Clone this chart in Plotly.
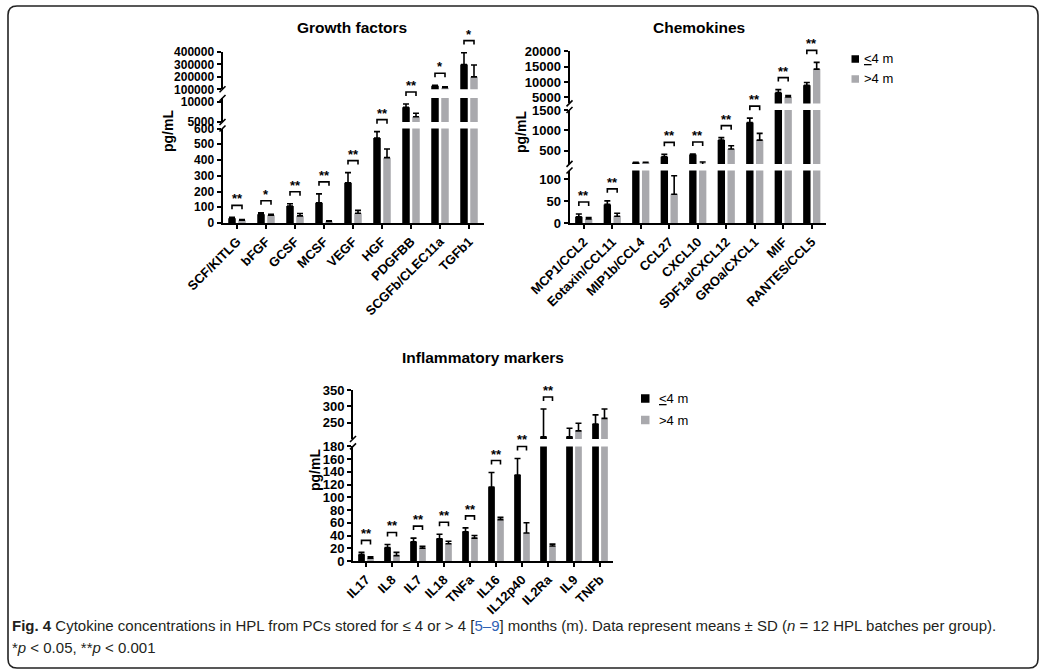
import plotly.graph_objects as go

W, H = 1046, 669
FONT = "Liberation Sans, Arial, Helvetica, sans-serif"
CAPTION_FONT = "Liberation Sans Narrow, Liberation Sans, Arial, sans-serif"
BLACK = "#000000"
GREY = "#a9a9ad"

# ---------------- data (means and SD, pg/mL) ----------------
gf_cats = ["SCF/KITLG", "bFGF", "GCSF", "MCSF", "VEGF", "HGF", "PDGFBB",
           "SCGFb/CLEC11a", "TGFb1"]
gf_le4 = [30, 55, 108, 128, 255, 540, 8700, 128000, 300000]
gf_le4_sd = [6, 10, 14, 57, 65, 40, 800, 5000, 95000]
gf_gt4 = [18, 50, 45, 10, 62, 415, 6300, 112000, 200000]
gf_gt4_sd = [4, 6, 15, 4, 18, 55, 900, 8000, 95000]
gf_sig = ["**", "*", "**", "**", "**", "**", "**", "*", "*"]

ch_cats = ["MCP1/CCL2", "Eotaxin/CCL11", "MIP1b/CCL4", "CCL27", "CXCL10",
           "SDF1a/CXCL12", "GROa/CXCL1", "MIF", "RANTES/CCL5"]
ch_le4 = [15, 43, 210, 350, 405, 760, 1190, 6500, 8900]
ch_le4_sd = [6, 8, 5, 60, 15, 60, 110, 1000, 900]
ch_gt4 = [10, 16, 210, 66, 160, 540, 760, 5100, 14200]
ch_gt4_sd = [3, 7, 5, 42, 60, 80, 165, 500, 2200]
ch_sig = ["**", "**", "", "**", "**", "**", "**", "**", "**"]

in_cats = ["IL17", "IL8", "IL7", "IL18", "TNFa", "IL16", "IL12p40", "IL2Ra",
           "IL9", "TNFb"]
in_le4 = [10, 21, 30, 35, 46, 116, 135, 207, 207, 246]
in_le4_sd = [3.5, 5, 6, 7, 6, 23, 26, 85, 26, 28]
in_gt4 = [4.5, 8.5, 20, 27, 36, 65, 44, 23.5, 225, 263]
in_gt4_sd = [2, 5, 3, 4, 4, 3.5, 16, 3, 23, 29]
in_sig = ["**", "**", "**", "**", "**", "**", "**", "**", "", ""]

# tick values of each axis segment (bottom -> top)
gf_ticks = [[0, 100, 200, 300, 400, 500, 600], [5000, 10000],
            [100000, 200000, 300000, 400000]]
ch_ticks = [[0, 50, 100], [500, 1000, 1500], [5000, 10000, 15000, 20000]]
in_ticks = [[0, 20, 40, 60, 80, 100, 120, 140, 160, 180], [250, 300, 350]]

series_names = ["<u>&lt;</u>4 m", "&gt;4 m"]


def fx(px):
    return px / W


def fy(py):
    return 1 - py / H


# Panel geometry in pixels: x extent of the category axis and, for each
# axis segment, its value range and (bottom, top) pixel rows.
panels = [
    dict(title="Growth factors", cats=gf_cats, a=gf_le4, ea=gf_le4_sd,
         b=gf_gt4, eb=gf_gt4_sd, sig=gf_sig, ticks=gf_ticks, tick_size=12,
         xpx=(222.5, 483.5),
         segs=[((0, 600), (223, 128.5)), ((5000, 11000), (122, 98)),
               ((100000, 400000), (89.3, 52))],
         title_xy=(352, 28), ylab_xy=(168, 131), legend=None),
    dict(title="Chemokines", cats=ch_cats, a=ch_le4, ea=ch_le4_sd,
         b=ch_gt4, eb=ch_gt4_sd, sig=ch_sig, ticks=ch_ticks, tick_size=13,
         xpx=(569.5, 826),
         segs=[((0, 120), (223.3, 170.5)), ((175, 1500), (163.9, 110)),
               ((3000, 20000), (103.4, 51.3))],
         title_xy=(699, 28), ylab_xy=(521, 132),
         legend=dict(sq=(851.5, 859), rows=(59, 79), tx=862)),
    dict(title="Inflammatory markers", cats=in_cats, a=in_le4, ea=in_le4_sd,
         b=in_gt4, eb=in_gt4_sd, sig=in_sig, ticks=in_ticks, tick_size=13,
         xpx=(353, 613),
         segs=[((0, 180), (561, 446.4)), ((200, 350), (439, 390))],
         title_xy=(483, 357), ylab_xy=(315, 470),
         legend=dict(sq=(641, 649.5), rows=(398.5, 420), tx=657)),
]

fig = go.Figure()
layout = dict(width=W, height=H,
              margin=dict(l=0, r=0, t=0, b=0, pad=0, autoexpand=False),
              autosize=False, paper_bgcolor="white", plot_bgcolor="white",
              barmode="group", bargap=0.31, bargroupgap=0.25,
              showlegend=False, font=dict(family=FONT, color=BLACK))
shapes = []
annotations = []

yidx = 0
for pi, p in enumerate(panels):
    xname = "x" if pi == 0 else f"x{pi + 1}"
    xkey = "xaxis" if pi == 0 else f"xaxis{pi + 1}"
    x0, x1 = p["xpx"]
    n = len(p["cats"])
    seg_names = []
    for si, ((lo, hi), (pb, pt)) in enumerate(p["segs"]):
        yidx += 1
        yname = "y" if yidx == 1 else f"y{yidx}"
        ykey = "yaxis" if yidx == 1 else f"yaxis{yidx}"
        seg_names.append(yname)
        ticks = p["ticks"][si]
        layout[ykey] = dict(
            domain=[fy(pb), fy(pt)], range=[lo, hi], anchor=xname,
            tickmode="array", tickvals=ticks, ticktext=[str(t) for t in ticks],
            showline=True, linecolor=BLACK, linewidth=2, ticks="outside",
            ticklen=4, tickwidth=1.5, tickcolor=BLACK, showgrid=False,
            zeroline=False, fixedrange=True, automargin=False,
            tickfont=dict(family=FONT, size=p["tick_size"], color=BLACK,
                          weight="bold"))
        for vals, errs, col in ((p["a"], p["ea"], BLACK),
                                (p["b"], p["eb"], GREY)):
            fig.add_trace(go.Bar(
                x=p["cats"], y=vals, xaxis=xname, yaxis=yname,
                marker=dict(color=col, line=dict(width=0)),
                error_y=dict(type="data", symmetric=False, array=errs,
                             arrayminus=[0] * len(errs), color=BLACK,
                             thickness=1.6, width=3)))
        # break marks at segment ends that face a gap
        if si > 0:
            shapes.append(dict(type="line", xref="paper", yref="paper",
                               x0=fx(x0 - 3), y0=fy(pb + 3),
                               x1=fx(x0 + 3), y1=fy(pb - 3),
                               line=dict(color=BLACK, width=1.6)))
        if si < len(p["segs"]) - 1:
            shapes.append(dict(type="line", xref="paper", yref="paper",
                               x0=fx(x0 - 3), y0=fy(pt + 3),
                               x1=fx(x0 + 3), y1=fy(pt - 3),
                               line=dict(color=BLACK, width=1.6)))
    layout[xkey] = dict(
        domain=[fx(x0), fx(x1)], anchor=seg_names[0], type="category",
        range=[-0.5, n - 0.5], showline=True, linecolor=BLACK, linewidth=2,
        ticks="outside", ticklen=4, tickwidth=1.5, tickcolor=BLACK,
        tickangle=-45, showgrid=False, zeroline=False, fixedrange=True,
        automargin=False,
        tickfont=dict(family=FONT, size=13, color=BLACK, weight="bold"))

    # value -> pixel row through the broken axis
    def ypix(v, segs=p["segs"]):
        prev_top = segs[0][1][0]
        for (lo, hi), (pb, pt) in segs:
            if v < lo:
                return prev_top
            if v <= hi:
                return pb + (v - lo) / (hi - lo) * (pt - pb)
            prev_top = pt
        return segs[-1][1][1]

    step = (x1 - x0) / n
    off = 0.1725 * step
    for i, s in enumerate(p["sig"]):
        if not s:
            continue
        top = min(ypix(p["a"][i] + p["ea"][i]), ypix(p["b"][i] + p["eb"][i]))
        by = top - 12
        cx = x0 + (i + 0.5) * step
        xa, xb = cx - off, cx + off
        path = (f"M{fx(xa)},{fy(by + 4)} L{fx(xa)},{fy(by)} "
                f"L{fx(xb)},{fy(by)} L{fx(xb)},{fy(by + 4)}")
        shapes.append(dict(type="path", xref="paper", yref="paper", path=path,
                           line=dict(color=BLACK, width=1.6)))
        annotations.append(dict(x=fx(cx), y=fy(by + 3), xref="paper",
                                yref="paper", text=s, showarrow=False,
                                xanchor="center", yanchor="bottom",
                                font=dict(family=FONT, size=13, color=BLACK,
                                          weight="bold")))

    annotations.append(dict(x=fx(p["title_xy"][0]), y=fy(p["title_xy"][1]),
                            xref="paper", yref="paper", text=p["title"],
                            showarrow=False, xanchor="center",
                            yanchor="middle",
                            font=dict(family=FONT, size=15.5, color=BLACK,
                                      weight="bold")))
    annotations.append(dict(x=fx(p["ylab_xy"][0]), y=fy(p["ylab_xy"][1]),
                            xref="paper", yref="paper", text="pg/mL",
                            textangle=-90, showarrow=False, xanchor="center",
                            yanchor="middle",
                            font=dict(family=FONT, size=14, color=BLACK,
                                      weight="bold")))
    lg = p["legend"]
    if lg:
        sx0, sx1 = lg["sq"]
        half = (sx1 - sx0) / 2
        for name, col, ry in zip(series_names, (BLACK, GREY), lg["rows"]):
            shapes.append(dict(type="rect", xref="paper", yref="paper",
                               x0=fx(sx0), x1=fx(sx1), y0=fy(ry + half),
                               y1=fy(ry - half), fillcolor=col,
                               line=dict(width=0)))
            annotations.append(dict(x=fx(lg["tx"]), y=fy(ry), xref="paper",
                                    yref="paper", text=name, showarrow=False,
                                    xanchor="left", yanchor="middle",
                                    font=dict(family=FONT, size=13,
                                              color=BLACK)))

# figure frame with rounded corners
L, T, R, B, r = 8, 6, 1038, 668, 9
frame = (f"M{fx(L)},{fy(T + r)} Q{fx(L)},{fy(T)} {fx(L + r)},{fy(T)} "
         f"L{fx(R - r)},{fy(T)} Q{fx(R)},{fy(T)} {fx(R)},{fy(T + r)} "
         f"L{fx(R)},{fy(B - r)} Q{fx(R)},{fy(B)} {fx(R - r)},{fy(B)} "
         f"L{fx(L + r)},{fy(B)} Q{fx(L)},{fy(B)} {fx(L)},{fy(B - r)} Z")
shapes.append(dict(type="path", xref="paper", yref="paper", path=frame,
                   line=dict(color="#222222", width=1.6)))

caption1 = ("<b>Fig. 4</b> Cytokine concentrations in HPL from PCs stored for "
            "≤ 4 or &gt; 4 [<span style='color:#2f62b5'>5–9</span>] months (m). "
            "Data represent means ± SD (<i>n</i> = 12 HPL batches per group).")
caption2 = "*<i>p</i> &lt; 0.05, **<i>p</i> &lt; 0.001"
for txt, row in ((caption1, 625), (caption2, 647)):
    annotations.append(dict(x=fx(10), y=fy(row), xref="paper", yref="paper",
                            text=txt, showarrow=False, xanchor="left",
                            yanchor="middle", align="left",
                            font=dict(family=CAPTION_FONT, size=15,
                                      color="#231f20")))

layout["shapes"] = shapes
layout["annotations"] = annotations
fig.update_layout(**layout)
fig.write_html("out.html")
